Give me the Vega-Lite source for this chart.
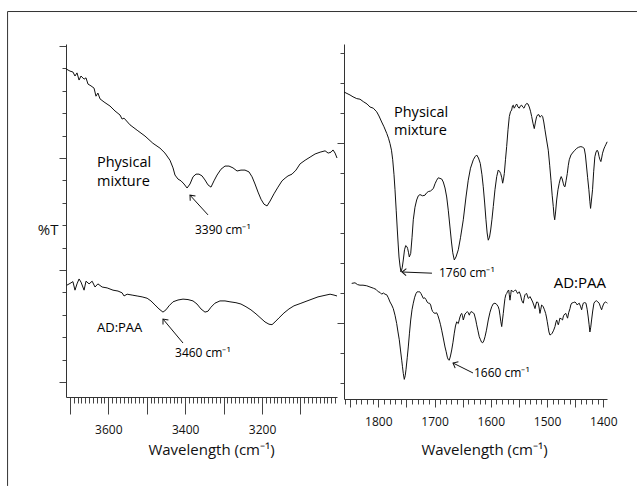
{
"$schema": "https://vega.github.io/schema/vega-lite/v6.json",
"padding": {"left": 7, "top": 11, "right": 0, "bottom": 0},
"autosize": {"type": "pad"},
"bounds": "flush",
"spacing": 7,
"config": {
 "view": {"stroke": null},
 "font": "Open Sans",
 "axis": {"grid": false, "domainColor": "#333", "tickColor": "#444", "labelColor": "#111", "titleColor": "#111", "labelFont": "Open Sans", "titleFont": "Open Sans", "titleFontWeight": "normal", "labelFontSize": 12, "labelFlush": false, "labelOverlap": false, "domainWidth": 1, "tickWidth": 1}
},
"datasets": {
 "LPM": [{"w":3710,"t":69.9},{"w":3699.6,"t":69.4},{"w":3692,"t":69.2},{"w":3686.6,"t":68.3},{"w":3681.4,"t":69.0},{"w":3676,"t":67.4},{"w":3671,"t":68.3},{"w":3663,"t":67.6},{"w":3658,"t":67.9},{"w":3652.8,"t":66.5},{"w":3645,"t":66.1},{"w":3637,"t":65.6},{"w":3632,"t":63.8},{"w":3627,"t":64.5},{"w":3621.5,"t":63.2},{"w":3611,"t":62.5},{"w":3595.5,"t":61.6},{"w":3582.5,"t":60.5},{"w":3569.5,"t":59.6},{"w":3564,"t":58.7},{"w":3559,"t":58.9},{"w":3543.5,"t":57.4},{"w":3525,"t":56.2},{"w":3504.5,"t":54.9},{"w":3484,"t":53.3},{"w":3465.5,"t":52.2},{"w":3452.5,"t":51.1},{"w":3439.5,"t":49.5},{"w":3431.6,"t":47.8},{"w":3426.5,"t":46.2},{"w":3418.6,"t":45.3},{"w":3410.8,"t":44.9},{"w":3403,"t":44.2},{"w":3395,"t":43.3},{"w":3387.4,"t":44.2},{"w":3379.6,"t":45.8},{"w":3371.8,"t":46.4},{"w":3364,"t":46.4},{"w":3356,"t":46.0},{"w":3348.4,"t":45.1},{"w":3340.6,"t":44.0},{"w":3332.8,"t":43.5},{"w":3325,"t":44.9},{"w":3317,"t":46.2},{"w":3306.8,"t":47.5},{"w":3296.4,"t":48.2},{"w":3286,"t":48.2},{"w":3275.6,"t":47.8},{"w":3265,"t":47.1},{"w":3254.8,"t":47.3},{"w":3244.3,"t":47.3},{"w":3234,"t":46.9},{"w":3226,"t":45.8},{"w":3218.3,"t":44.2},{"w":3210.5,"t":42.4},{"w":3202.7,"t":40.8},{"w":3195,"t":39.7},{"w":3187,"t":39.3},{"w":3179,"t":40.4},{"w":3169,"t":42.0},{"w":3158.5,"t":43.5},{"w":3148,"t":44.9},{"w":3140,"t":45.5},{"w":3132.5,"t":46.0},{"w":3122,"t":46.4},{"w":3111.7,"t":47.3},{"w":3101,"t":48.7},{"w":3088,"t":49.5},{"w":3075,"t":50.2},{"w":3062,"t":50.9},{"w":3049,"t":51.3},{"w":3036,"t":51.6},{"w":3028,"t":51.1},{"w":3020.6,"t":51.3},{"w":3015.4,"t":51.8},{"w":3010,"t":51.1},{"w":3005,"t":50.0}],
 "LAD": [{"w":3708,"t":21.6},{"w":3699.6,"t":22.0},{"w":3692,"t":22.4},{"w":3686.6,"t":20.5},{"w":3681.4,"t":21.9},{"w":3676,"t":23.0},{"w":3671,"t":22.3},{"w":3663,"t":20.5},{"w":3658,"t":22.5},{"w":3650,"t":21.9},{"w":3642,"t":22.5},{"w":3634.5,"t":21.2},{"w":3627,"t":21.9},{"w":3616,"t":21.2},{"w":3603,"t":21.0},{"w":3587.7,"t":20.5},{"w":3574.7,"t":20.3},{"w":3564,"t":19.9},{"w":3559,"t":19.2},{"w":3551,"t":19.6},{"w":3538,"t":19.4},{"w":3525,"t":19.2},{"w":3512,"t":19.0},{"w":3499,"t":18.7},{"w":3489,"t":18.1},{"w":3478.5,"t":17.2},{"w":3468,"t":16.3},{"w":3457.7,"t":15.6},{"w":3450,"t":16.1},{"w":3442,"t":17.0},{"w":3431.6,"t":17.9},{"w":3418.6,"t":18.3},{"w":3405.6,"t":18.5},{"w":3392.6,"t":18.4},{"w":3379.6,"t":18.1},{"w":3369.2,"t":17.4},{"w":3358.8,"t":16.3},{"w":3348.4,"t":15.6},{"w":3340.6,"t":15.8},{"w":3332.8,"t":16.7},{"w":3322.4,"t":17.6},{"w":3309.4,"t":18.1},{"w":3296.4,"t":18.1},{"w":3283.4,"t":17.9},{"w":3267.8,"t":17.7},{"w":3254.8,"t":17.4},{"w":3241.8,"t":16.8},{"w":3228.8,"t":16.1},{"w":3215.7,"t":15.2},{"w":3202.7,"t":14.2},{"w":3192.3,"t":13.4},{"w":3181.9,"t":12.9},{"w":3174,"t":12.8},{"w":3166.3,"t":13.4},{"w":3156,"t":14.3},{"w":3143,"t":15.4},{"w":3130,"t":16.3},{"w":3117,"t":17.0},{"w":3101,"t":17.5},{"w":3085.6,"t":18.0},{"w":3070,"t":18.5},{"w":3054.4,"t":19.0},{"w":3038.8,"t":19.3},{"w":3023,"t":19.6},{"w":3012.8,"t":19.4},{"w":3005,"t":19.2}],
 "RPM": [{"w":1861,"t":48.5},{"w":1850.3,"t":48.0},{"w":1845,"t":47.7},{"w":1838.4,"t":47.4},{"w":1832.6,"t":47.3},{"w":1826.7,"t":46.9},{"w":1820,"t":46.5},{"w":1814.8,"t":46.0},{"w":1808.9,"t":45.8},{"w":1802.9,"t":45.2},{"w":1798.8,"t":44.5},{"w":1794,"t":43.5},{"w":1789.9,"t":42.7},{"w":1785,"t":41.6},{"w":1781.9,"t":40.8},{"w":1779.2,"t":39.9},{"w":1776.6,"t":38.8},{"w":1774.4,"t":37.2},{"w":1772.1,"t":34.7},{"w":1770.3,"t":32.2},{"w":1768.2,"t":28.8},{"w":1766.2,"t":25.5},{"w":1764.6,"t":23.0},{"w":1763.2,"t":21.0},{"w":1761.4,"t":19.5},{"w":1759.7,"t":18.5},{"w":1757.5,"t":19.2},{"w":1755.6,"t":20.5},{"w":1753.4,"t":22.2},{"w":1751.3,"t":22.9},{"w":1749,"t":22.7},{"w":1747.8,"t":22.4},{"w":1746.2,"t":21.7},{"w":1744.9,"t":21.0},{"w":1742.4,"t":21.6},{"w":1740.1,"t":24.2},{"w":1737.8,"t":27.2},{"w":1734.8,"t":29.3},{"w":1731.8,"t":30.5},{"w":1728.9,"t":31.2},{"w":1725.9,"t":31.4},{"w":1721.4,"t":31.2},{"w":1717,"t":31.3},{"w":1714,"t":31.7},{"w":1711.1,"t":31.9},{"w":1707.2,"t":32.0},{"w":1702.2,"t":32.4},{"w":1699.2,"t":33.2},{"w":1696.2,"t":33.8},{"w":1693.4,"t":34.2},{"w":1690.3,"t":34.1},{"w":1687.3,"t":34.0},{"w":1684.5,"t":33.5},{"w":1681.4,"t":32.5},{"w":1678.4,"t":31.0},{"w":1675.6,"t":28.8},{"w":1672.6,"t":26.0},{"w":1669.9,"t":23.5},{"w":1667.6,"t":21.7},{"w":1664.9,"t":20.5},{"w":1661.9,"t":21.0},{"w":1657.8,"t":22.2},{"w":1653.9,"t":24.2},{"w":1648.9,"t":27.2},{"w":1644.1,"t":31.0},{"w":1640.1,"t":33.8},{"w":1636.1,"t":35.8},{"w":1631.1,"t":37.2},{"w":1628.1,"t":37.7},{"w":1625.1,"t":38.0},{"w":1621.9,"t":37.5},{"w":1618.7,"t":36.6},{"w":1615.7,"t":34.7},{"w":1613.4,"t":32.7},{"w":1610.9,"t":30.0},{"w":1608.6,"t":27.2},{"w":1606.5,"t":25.0},{"w":1604.5,"t":23.8},{"w":1602.3,"t":24.3},{"w":1600.2,"t":25.5},{"w":1597.9,"t":27.3},{"w":1595.6,"t":29.4},{"w":1592.6,"t":32.2},{"w":1589.5,"t":34.4},{"w":1586.7,"t":35.5},{"w":1584.6,"t":35.3},{"w":1582.4,"t":34.9},{"w":1580.5,"t":34.2},{"w":1578.9,"t":33.3},{"w":1577.4,"t":34.0},{"w":1576,"t":34.9},{"w":1573.9,"t":37.2},{"w":1571.8,"t":39.4},{"w":1569.4,"t":42.2},{"w":1567.1,"t":44.4},{"w":1565,"t":45.2},{"w":1562.9,"t":45.5},{"w":1561.4,"t":46.2},{"w":1560,"t":46.3},{"w":1558.4,"t":45.8},{"w":1557,"t":46.0},{"w":1555.6,"t":46.3},{"w":1554,"t":46.5},{"w":1551.7,"t":46.0},{"w":1549.4,"t":45.8},{"w":1547.2,"t":46.2},{"w":1545.1,"t":46.3},{"w":1543.2,"t":46.0},{"w":1541,"t":45.8},{"w":1538.7,"t":46.3},{"w":1536.2,"t":46.6},{"w":1533.9,"t":46.5},{"w":1531.6,"t":46.0},{"w":1529.4,"t":45.3},{"w":1527.3,"t":44.4},{"w":1525,"t":43.3},{"w":1522.7,"t":42.4},{"w":1520.6,"t":43.5},{"w":1518.5,"t":44.4},{"w":1516.5,"t":44.7},{"w":1514.3,"t":44.7},{"w":1512.6,"t":44.3},{"w":1511.3,"t":44.4},{"w":1509.6,"t":44.6},{"w":1507.8,"t":44.4},{"w":1505.8,"t":43.5},{"w":1503.7,"t":42.2},{"w":1500.8,"t":40.5},{"w":1497.8,"t":38.8},{"w":1495.3,"t":36.3},{"w":1493,"t":33.8},{"w":1490.9,"t":31.3},{"w":1488.9,"t":29.4},{"w":1487.7,"t":28.0},{"w":1486.4,"t":27.2},{"w":1484.8,"t":28.5},{"w":1482.9,"t":30.5},{"w":1480.6,"t":32.2},{"w":1478.3,"t":33.3},{"w":1476.5,"t":34.0},{"w":1474.8,"t":34.4},{"w":1473,"t":34.0},{"w":1471.2,"t":33.3},{"w":1469.6,"t":32.8},{"w":1468.1,"t":32.7},{"w":1466,"t":33.8},{"w":1464,"t":34.9},{"w":1462.3,"t":36.2},{"w":1460.5,"t":37.2},{"w":1457.5,"t":38.0},{"w":1453.4,"t":38.5},{"w":1450.4,"t":38.8},{"w":1447.4,"t":39.1},{"w":1443.7,"t":39.3},{"w":1439.8,"t":39.4},{"w":1436.8,"t":39.3},{"w":1433.9,"t":39.1},{"w":1431.8,"t":38.0},{"w":1429.7,"t":36.0},{"w":1427.8,"t":34.2},{"w":1425.6,"t":32.2},{"w":1423.8,"t":30.2},{"w":1422.6,"t":29.1},{"w":1421,"t":30.5},{"w":1419.1,"t":32.2},{"w":1417.1,"t":35.2},{"w":1415,"t":37.7},{"w":1412.9,"t":38.5},{"w":1410.9,"t":38.8},{"w":1409.1,"t":38.5},{"w":1407.4,"t":37.7},{"w":1405.8,"t":37.2},{"w":1404.3,"t":36.9},{"w":1402.9,"t":37.5},{"w":1401.3,"t":38.3},{"w":1399,"t":39.0},{"w":1397.2,"t":39.4},{"w":1395.1,"t":39.8},{"w":1393.1,"t":40.2}],
 "RAD": [{"w":1847.3,"t":16.6},{"w":1841.4,"t":16.7},{"w":1837,"t":16.4},{"w":1832.6,"t":16.3},{"w":1827.2,"t":16.3},{"w":1820.6,"t":16.2},{"w":1814.8,"t":16.0},{"w":1808.9,"t":15.8},{"w":1804.1,"t":15.6},{"w":1800,"t":15.2},{"w":1797,"t":15.1},{"w":1794,"t":14.8},{"w":1791.1,"t":15.0},{"w":1788.1,"t":14.8},{"w":1785,"t":14.7},{"w":1782.2,"t":14.2},{"w":1779.2,"t":13.5},{"w":1776.2,"t":13.0},{"w":1773.4,"t":12.4},{"w":1770.3,"t":11.3},{"w":1767.3,"t":9.9},{"w":1765,"t":8.5},{"w":1762.7,"t":7.2},{"w":1760.6,"t":5.5},{"w":1758.4,"t":3.8},{"w":1757,"t":2.7},{"w":1755.6,"t":1.6},{"w":1753.8,"t":0.6},{"w":1752.2,"t":1.2},{"w":1750.8,"t":2.2},{"w":1748.6,"t":4.2},{"w":1746.7,"t":6.0},{"w":1744.6,"t":8.3},{"w":1742.4,"t":10.5},{"w":1740.1,"t":12.2},{"w":1737.8,"t":13.3},{"w":1735.3,"t":14.3},{"w":1733,"t":14.9},{"w":1730.9,"t":15.2},{"w":1728.9,"t":15.2},{"w":1726.4,"t":15.2},{"w":1724.1,"t":14.9},{"w":1722,"t":14.5},{"w":1720,"t":14.1},{"w":1717.5,"t":14.2},{"w":1715.2,"t":13.9},{"w":1713.1,"t":13.5},{"w":1711.1,"t":13.3},{"w":1709,"t":13.3},{"w":1706.9,"t":13.0},{"w":1705.1,"t":12.3},{"w":1703.3,"t":11.9},{"w":1701.4,"t":11.7},{"w":1699.2,"t":11.6},{"w":1696.2,"t":11.7},{"w":1693.9,"t":11.2},{"w":1691.6,"t":10.5},{"w":1689.4,"t":9.7},{"w":1687.3,"t":8.8},{"w":1684.5,"t":7.5},{"w":1681.4,"t":6.0},{"w":1679.3,"t":5.2},{"w":1677.3,"t":4.3},{"w":1675.6,"t":3.9},{"w":1673.8,"t":3.8},{"w":1671.7,"t":4.5},{"w":1669.5,"t":5.5},{"w":1667.2,"t":6.8},{"w":1664.9,"t":8.3},{"w":1662.8,"t":9.5},{"w":1660.6,"t":10.2},{"w":1659.2,"t":10.0},{"w":1657.8,"t":9.9},{"w":1656.2,"t":10.5},{"w":1654.8,"t":11.0},{"w":1653.3,"t":11.4},{"w":1651.8,"t":11.6},{"w":1650.3,"t":11.2},{"w":1648.9,"t":10.5},{"w":1647.3,"t":11.0},{"w":1645.9,"t":11.5},{"w":1643.7,"t":11.7},{"w":1641.8,"t":11.9},{"w":1640,"t":11.7},{"w":1638.2,"t":11.3},{"w":1636.6,"t":11.7},{"w":1635.2,"t":11.9},{"w":1633.1,"t":11.8},{"w":1631.1,"t":11.7},{"w":1629.5,"t":11.5},{"w":1628.1,"t":11.0},{"w":1626.7,"t":10.5},{"w":1625.1,"t":9.7},{"w":1622.8,"t":8.7},{"w":1620.5,"t":7.7},{"w":1618.3,"t":7.2},{"w":1616.4,"t":6.8},{"w":1614.4,"t":6.7},{"w":1612.5,"t":7.0},{"w":1610.3,"t":7.7},{"w":1607.7,"t":8.8},{"w":1604.5,"t":10.5},{"w":1601.4,"t":11.8},{"w":1598.4,"t":12.7},{"w":1595.6,"t":13.2},{"w":1592.6,"t":13.3},{"w":1589.5,"t":13.1},{"w":1586.7,"t":12.7},{"w":1585.1,"t":12.2},{"w":1583.7,"t":11.3},{"w":1582.3,"t":10.3},{"w":1580.6,"t":9.4},{"w":1579.2,"t":10.5},{"w":1577.8,"t":11.6},{"w":1576.2,"t":13.0},{"w":1574.8,"t":14.1},{"w":1573.3,"t":14.7},{"w":1571.8,"t":14.9},{"w":1570,"t":15.3},{"w":1568.2,"t":15.5},{"w":1567.1,"t":14.7},{"w":1565.9,"t":13.8},{"w":1564.6,"t":14.7},{"w":1563.6,"t":15.5},{"w":1561.8,"t":15.3},{"w":1560,"t":15.2},{"w":1557.9,"t":15.4},{"w":1555.8,"t":15.5},{"w":1554,"t":15.2},{"w":1552.2,"t":14.9},{"w":1550.8,"t":15.1},{"w":1549.4,"t":15.2},{"w":1547.2,"t":14.7},{"w":1545.1,"t":13.8},{"w":1543.7,"t":13.5},{"w":1542.2,"t":13.3},{"w":1540.6,"t":14.2},{"w":1539.2,"t":14.7},{"w":1537.4,"t":14.9},{"w":1536.2,"t":14.9},{"w":1534.8,"t":14.5},{"w":1533.4,"t":14.1},{"w":1531.8,"t":14.2},{"w":1530.3,"t":14.4},{"w":1528,"t":14.0},{"w":1525.5,"t":13.5},{"w":1523.6,"t":13.0},{"w":1521.4,"t":12.4},{"w":1520,"t":13.0},{"w":1518.5,"t":13.5},{"w":1517,"t":13.5},{"w":1515.6,"t":13.3},{"w":1514,"t":12.5},{"w":1512.6,"t":11.6},{"w":1511.1,"t":12.3},{"w":1509.6,"t":13.0},{"w":1508.2,"t":12.9},{"w":1506.7,"t":12.7},{"w":1504.6,"t":12.2},{"w":1502.5,"t":11.6},{"w":1501.1,"t":11.0},{"w":1499.6,"t":10.2},{"w":1498,"t":9.3},{"w":1496.6,"t":8.5},{"w":1494.9,"t":8.0},{"w":1492.7,"t":8.1},{"w":1490.8,"t":8.3},{"w":1488.2,"t":8.8},{"w":1485.9,"t":9.4},{"w":1484.5,"t":10.0},{"w":1482.9,"t":10.5},{"w":1481.5,"t":10.1},{"w":1480,"t":9.7},{"w":1478.5,"t":10.2},{"w":1477.2,"t":10.8},{"w":1474.8,"t":10.7},{"w":1472.4,"t":10.5},{"w":1471.3,"t":11.0},{"w":1470.1,"t":11.3},{"w":1468.3,"t":11.5},{"w":1466.6,"t":11.6},{"w":1465.1,"t":11.2},{"w":1463.5,"t":10.8},{"w":1461.6,"t":11.7},{"w":1459.2,"t":12.4},{"w":1457.8,"t":13.0},{"w":1456.2,"t":13.3},{"w":1453.4,"t":13.4},{"w":1450.4,"t":13.5},{"w":1448.2,"t":13.3},{"w":1446.3,"t":13.0},{"w":1444.5,"t":13.2},{"w":1442.8,"t":13.3},{"w":1440.6,"t":12.8},{"w":1438.5,"t":12.2},{"w":1437.1,"t":12.8},{"w":1435.6,"t":13.3},{"w":1433.2,"t":13.4},{"w":1430.8,"t":13.3},{"w":1428.7,"t":12.3},{"w":1426.8,"t":11.0},{"w":1425.2,"t":9.7},{"w":1423.8,"t":8.5},{"w":1422.3,"t":9.3},{"w":1420.8,"t":10.5},{"w":1418.8,"t":12.0},{"w":1416.6,"t":13.3},{"w":1414.3,"t":13.6},{"w":1411.9,"t":13.7},{"w":1409.6,"t":13.5},{"w":1407.3,"t":13.3},{"w":1405.1,"t":12.7},{"w":1403,"t":12.2},{"w":1401.6,"t":12.6},{"w":1400.2,"t":13.0},{"w":1398,"t":13.4},{"w":1395.9,"t":13.5},{"w":1394.1,"t":13.4},{"w":1392.7,"t":13.3}],
 "notes": [
  {"p":"L","k":"name","label":"Physical","w":3629.4,"t":48.9},
  {"p":"L","k":"name","label":"mixture","w":3629.4,"t":44.6},
  {"p":"L","k":"nameS","label":"AD:PAA","w":3629.4,"t":12.05},
  {"p":"L","k":"wn","label":"3390 cm⁻¹","w":3374.4,"t":33.9},
  {"p":"L","k":"wn","label":"3460 cm⁻¹","w":3426.4,"t":6.5},
  {"p":"R","k":"name","label":"Physical","w":1772.1,"t":45},
  {"p":"R","k":"name","label":"mixture","w":1772.1,"t":42},
  {"p":"R","k":"nameR","label":"AD:PAA","w":1395.2,"t":16.67},
  {"p":"R","k":"wn","label":"1760 cm⁻¹","w":1692.1,"t":18.3},
  {"p":"R","k":"wn","label":"1660 cm⁻¹","w":1629.9,"t":1.67}
 ],
 "arrows": [
  {"p":"L","id":"a3390","w1":3340.6,"t1":37.3,"w2":3387.4,"t2":41.7},
  {"p":"L","id":"a3460","w1":3405.6,"t1":8.7,"w2":3457.7,"t2":14.06},
  {"p":"R","id":"a1760","w1":1704.6,"t1":18.3,"w2":1757.9,"t2":18.5},
  {"p":"R","id":"a1660","w1":1631.7,"t1":1.67,"w2":1667.2,"t2":3.33}
 ],
 "frame": [
  {"w1":3862,"t1":82.7,"w2":3862,"t2":-23.2},
  {"w1":3862,"t1":82.7,"w2":2224.6,"t2":82.7}
 ]
},
"hconcat": [
 {
  "width": 271, "height": 353,
  "layer": [
   {"data": {"name": "frame"},
    "mark": {"type": "rule", "color": "#333", "strokeWidth": 1},
    "encoding": {
     "x": {"field": "w1", "type": "quantitative", "scale": {"domain": [3710, 3005], "nice": false, "zero": false}, "axis": null},
     "x2": {"field": "w2"},
     "y": {"field": "t1", "type": "quantitative", "scale": {"domain": [-3.35, 75.45], "nice": false, "zero": false}, "axis": null},
     "y2": {"field": "t2"}
    }},
   {"data": {"name": "LPM"},
    "mark": {"type": "line", "color": "#111", "strokeWidth": 1},
    "encoding": {
     "x": {"field": "w", "type": "quantitative", "scale": {"domain": [3710, 3005], "nice": false, "zero": false},
       "axis": {"orient": "bottom", "values": [3010,3020,3030,3040,3050,3060,3070,3080,3090,3100,3110,3120,3130,3140,3150,3160,3170,3180,3190,3200,3210,3220,3230,3240,3250,3260,3270,3280,3290,3300,3310,3320,3330,3340,3350,3360,3370,3380,3390,3400,3410,3420,3430,3440,3450,3460,3470,3480,3490,3500,3510,3520,3530,3540,3550,3560,3570,3580,3590,3600,3610,3620,3630,3640,3650,3660,3670,3680,3690,3700], "tickSize": 6, "labels": false, "domain": false, "title": null}},
     "y": {"field": "t", "type": "quantitative", "scale": {"domain": [-3.35, 75.45], "nice": false, "zero": false},
       "axis": {"orient": "left", "values": [0,5,10,15,20,25,30,35,40,45,50,55,60,65,70,75], "tickSize": 4, "labels": false, "domain": false, "title": null}}
    }},
   {"data": {"name": "LAD"},
    "mark": {"type": "line", "color": "#111", "strokeWidth": 1},
    "encoding": {
     "x": {"field": "w", "type": "quantitative", "scale": {"domain": [3710, 3005], "nice": false, "zero": false},
       "axis": {"orient": "bottom", "values": [3100,3200,3300,3400,3500,3600,3700], "format": "d", "tickSize": 17, "labelExpr": "datum.value % 200 == 0 ? datum.label : ''", "labelPadding": 10, "labelFontSize": 12, "domain": true, "title": "Wavelength (cm⁻¹)", "titleFontSize": 15, "titleX": 145, "titleY": 52, "titleAlign": "center", "titleBaseline": "middle"}},
     "y": {"field": "t", "type": "quantitative", "scale": {"domain": [-3.35, 75.45], "nice": false, "zero": false},
       "axis": {"orient": "left", "values": [0,25,50,75], "tickSize": 7, "labels": false, "domain": true, "title": "%T", "titleAngle": 0, "titleAlign": "right", "titleBaseline": "middle", "titleX": -8, "titleY": 185, "titleFontSize": 15}}
    }},
   {"data": {"name": "notes"},
    "transform": [{"filter": "datum.p == 'L' && datum.k == 'name'"}],
    "mark": {"type": "text", "align": "left", "baseline": "middle", "fontSize": 14.5, "color": "#000", "font": "Open Sans"},
    "encoding": {
     "x": {"field": "w", "type": "quantitative", "scale": {"domain": [3710, 3005], "nice": false, "zero": false}, "axis": null},
     "y": {"field": "t", "type": "quantitative", "scale": {"domain": [-3.35, 75.45], "nice": false, "zero": false}, "axis": null},
     "text": {"field": "label"}
    }},
   {"data": {"name": "notes"},
    "transform": [{"filter": "datum.p == 'L' && datum.k == 'nameS'"}],
    "mark": {"type": "text", "align": "left", "baseline": "middle", "fontSize": 13, "color": "#000", "font": "Open Sans"},
    "encoding": {
     "x": {"field": "w", "type": "quantitative", "scale": {"domain": [3710, 3005], "nice": false, "zero": false}, "axis": null},
     "y": {"field": "t", "type": "quantitative", "scale": {"domain": [-3.35, 75.45], "nice": false, "zero": false}, "axis": null},
     "text": {"field": "label"}
    }},
   {"data": {"name": "notes"},
    "transform": [{"filter": "datum.p == 'L' && datum.k == 'wn'"}],
    "mark": {"type": "text", "align": "left", "baseline": "middle", "fontSize": 12, "color": "#000", "font": "Open Sans"},
    "encoding": {
     "x": {"field": "w", "type": "quantitative", "scale": {"domain": [3710, 3005], "nice": false, "zero": false}, "axis": null},
     "y": {"field": "t", "type": "quantitative", "scale": {"domain": [-3.35, 75.45], "nice": false, "zero": false}, "axis": null},
     "text": {"field": "label"}
    }},
   {"data": {"name": "arrows"},
    "transform": [{"filter": "datum.p == 'L'"}],
    "mark": {"type": "rule", "color": "#111", "strokeWidth": 1},
    "encoding": {
     "x": {"field": "w1", "type": "quantitative", "scale": {"domain": [3710, 3005], "nice": false, "zero": false}, "axis": null},
     "x2": {"field": "w2"},
     "y": {"field": "t1", "type": "quantitative", "scale": {"domain": [-3.35, 75.45], "nice": false, "zero": false}, "axis": null},
     "y2": {"field": "t2"}
    }},
   {"data": {"name": "arrows"},
    "transform": [{"filter": "datum.id == 'a3390'"}],
    "mark": {"type": "point", "shape": "M-1,1.2L0,0L1,1.2", "size": 50, "filled": false, "color": "#111", "strokeWidth": 1, "angle": -42, "opacity": 1},
    "encoding": {
     "x": {"field": "w2", "type": "quantitative", "scale": {"domain": [3710, 3005], "nice": false, "zero": false}, "axis": null},
     "y": {"field": "t2", "type": "quantitative", "scale": {"domain": [-3.35, 75.45], "nice": false, "zero": false}, "axis": null}
    }},
   {"data": {"name": "arrows"},
    "transform": [{"filter": "datum.id == 'a3460'"}],
    "mark": {"type": "point", "shape": "M-1,1.2L0,0L1,1.2", "size": 50, "filled": false, "color": "#111", "strokeWidth": 1, "angle": -40, "opacity": 1},
    "encoding": {
     "x": {"field": "w2", "type": "quantitative", "scale": {"domain": [3710, 3005], "nice": false, "zero": false}, "axis": null},
     "y": {"field": "t2", "type": "quantitative", "scale": {"domain": [-3.35, 75.45], "nice": false, "zero": false}, "axis": null}
    }}
  ],
  "resolve": {"axis": {"x": "independent", "y": "independent"}}
 },
 {
  "width": 263, "height": 355,
  "layer": [
   {"data": {"name": "RPM"},
    "mark": {"type": "line", "color": "#111", "strokeWidth": 1},
    "encoding": {
     "x": {"field": "w", "type": "quantitative", "scale": {"domain": [1861, 1393.4], "nice": false, "zero": false},
       "axis": {"orient": "bottom", "values": [1400,1410,1420,1430,1440,1450,1460,1470,1480,1490,1500,1510,1520,1530,1540,1550,1560,1570,1580,1590,1600,1610,1620,1630,1640,1650,1660,1670,1680,1690,1700,1710,1720,1730,1740,1750,1760,1770,1780,1790,1800,1810,1820,1830,1840,1850,1860], "tickSize": 5, "labels": false, "domain": false, "title": null}},
     "y": {"field": "t", "type": "quantitative", "scale": {"domain": [-2.67, 56.5], "nice": false, "zero": false},
       "axis": {"orient": "left", "values": [0,5,10,15,20,25,30,35,40,45,50,55], "tickSize": 4, "labels": false, "domain": false, "title": null}}
    }},
   {"data": {"name": "RAD"},
    "mark": {"type": "line", "color": "#111", "strokeWidth": 1},
    "encoding": {
     "x": {"field": "w", "type": "quantitative", "scale": {"domain": [1861, 1393.4], "nice": false, "zero": false},
       "axis": {"orient": "bottom", "values": [1400,1450,1500,1550,1600,1650,1700,1750,1800,1850], "format": "d", "tickSize": 8, "labelExpr": "datum.value % 100 == 0 ? datum.label : ''", "labelPadding": 9, "labelFontSize": 12, "domain": true, "title": "Wavelength (cm⁻¹)", "titleFontSize": 15, "titleX": 140, "titleY": 50, "titleAlign": "center", "titleBaseline": "middle"}},
     "y": {"field": "t", "type": "quantitative", "scale": {"domain": [-2.67, 56.5], "nice": false, "zero": false},
       "axis": {"orient": "left", "values": [10, 40], "tickSize": 7, "labels": false, "domain": true, "title": null}}
    }},
   {"data": {"name": "notes"},
    "transform": [{"filter": "datum.p == 'R' && datum.k == 'name'"}],
    "mark": {"type": "text", "align": "left", "baseline": "middle", "fontSize": 14.5, "color": "#000", "font": "Open Sans"},
    "encoding": {
     "x": {"field": "w", "type": "quantitative", "scale": {"domain": [1861, 1393.4], "nice": false, "zero": false}, "axis": null},
     "y": {"field": "t", "type": "quantitative", "scale": {"domain": [-2.67, 56.5], "nice": false, "zero": false}, "axis": null},
     "text": {"field": "label"}
    }},
   {"data": {"name": "notes"},
    "transform": [{"filter": "datum.p == 'R' && datum.k == 'nameR'"}],
    "mark": {"type": "text", "align": "right", "baseline": "middle", "fontSize": 15, "color": "#000", "font": "Open Sans"},
    "encoding": {
     "x": {"field": "w", "type": "quantitative", "scale": {"domain": [1861, 1393.4], "nice": false, "zero": false}, "axis": null},
     "y": {"field": "t", "type": "quantitative", "scale": {"domain": [-2.67, 56.5], "nice": false, "zero": false}, "axis": null},
     "text": {"field": "label"}
    }},
   {"data": {"name": "notes"},
    "transform": [{"filter": "datum.p == 'R' && datum.k == 'wn'"}],
    "mark": {"type": "text", "align": "left", "baseline": "middle", "fontSize": 12, "color": "#000", "font": "Open Sans"},
    "encoding": {
     "x": {"field": "w", "type": "quantitative", "scale": {"domain": [1861, 1393.4], "nice": false, "zero": false}, "axis": null},
     "y": {"field": "t", "type": "quantitative", "scale": {"domain": [-2.67, 56.5], "nice": false, "zero": false}, "axis": null},
     "text": {"field": "label"}
    }},
   {"data": {"name": "arrows"},
    "transform": [{"filter": "datum.p == 'R'"}],
    "mark": {"type": "rule", "color": "#111", "strokeWidth": 1},
    "encoding": {
     "x": {"field": "w1", "type": "quantitative", "scale": {"domain": [1861, 1393.4], "nice": false, "zero": false}, "axis": null},
     "x2": {"field": "w2"},
     "y": {"field": "t1", "type": "quantitative", "scale": {"domain": [-2.67, 56.5], "nice": false, "zero": false}, "axis": null},
     "y2": {"field": "t2"}
    }},
   {"data": {"name": "arrows"},
    "transform": [{"filter": "datum.id == 'a1760'"}],
    "mark": {"type": "point", "shape": "M-1,1.2L0,0L1,1.2", "size": 50, "filled": false, "color": "#111", "strokeWidth": 1, "angle": -88, "opacity": 1},
    "encoding": {
     "x": {"field": "w2", "type": "quantitative", "scale": {"domain": [1861, 1393.4], "nice": false, "zero": false}, "axis": null},
     "y": {"field": "t2", "type": "quantitative", "scale": {"domain": [-2.67, 56.5], "nice": false, "zero": false}, "axis": null}
    }},
   {"data": {"name": "arrows"},
    "transform": [{"filter": "datum.id == 'a1660'"}],
    "mark": {"type": "point", "shape": "M-1,1.2L0,0L1,1.2", "size": 50, "filled": false, "color": "#111", "strokeWidth": 1, "angle": -63, "opacity": 1},
    "encoding": {
     "x": {"field": "w2", "type": "quantitative", "scale": {"domain": [1861, 1393.4], "nice": false, "zero": false}, "axis": null},
     "y": {"field": "t2", "type": "quantitative", "scale": {"domain": [-2.67, 56.5], "nice": false, "zero": false}, "axis": null}
    }}
  ],
  "resolve": {"axis": {"x": "independent", "y": "independent"}}
 }
]
}
